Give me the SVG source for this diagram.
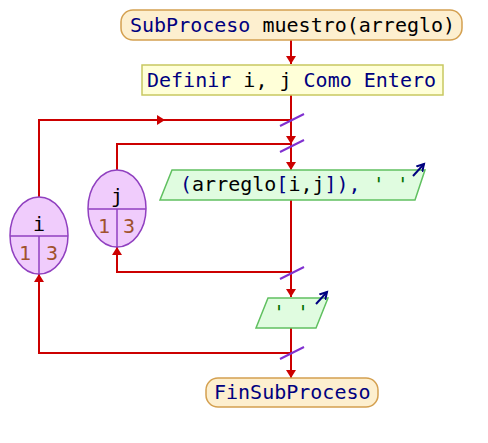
<svg xmlns="http://www.w3.org/2000/svg" width="488" height="443" viewBox="0 0 488 443">
<style>
text{font-family:"DejaVu Sans Mono","Liberation Mono",monospace;font-size:20px}
.kw{fill:#00007f}.id{fill:#000}.st{fill:#007000}.nm{fill:#a0522d}
.term{fill:#fdefcf;stroke:#d4a050;stroke-width:1.5}
.proc{fill:#ffffd8;stroke:#c8c860;stroke-width:1.5}
.out{fill:#e0fce0;stroke:#60c060;stroke-width:1.5}
.loop{fill:#f0ccfc;stroke:#9040c0;stroke-width:1.5}
.div{stroke:#9040c0;stroke-width:1.5}
.con{fill:none;stroke:#cc0000;stroke-width:2}
.sl{stroke:#8030d0;stroke-width:2}
.oa{fill:none;stroke:#00007f;stroke-width:2}
</style>
<defs>
<marker id="ah" markerUnits="userSpaceOnUse" markerWidth="12" markerHeight="10" refX="8" refY="5" orient="auto">
<path d="M0,0 L8,5 L0,10 Z" fill="#cc0000"/>
</marker>
<marker id="oh" markerUnits="userSpaceOnUse" markerWidth="10" markerHeight="10" refX="7" refY="5" orient="auto">
<path d="M0,1 L7,5 L0,9" fill="none" stroke="#00007f" stroke-width="2"/>
</marker>
</defs>
<g id="connectors">
<path class="con" d="M291,40 V64" marker-end="url(#ah)"/>
<path class="con" d="M291,95 V144" marker-end="url(#ah)"/>
<path class="con" d="M291,144 V170" marker-end="url(#ah)"/>
<path class="con" d="M39,197 V120 H165" marker-end="url(#ah)"/>
<path class="con" d="M165,120 H291"/>
<path class="con" d="M117,170 V144 H291"/>
<path class="con" d="M291,200 V297" marker-end="url(#ah)"/>
<path class="con" d="M291,272 H117 V247" marker-end="url(#ah)"/>
<path class="con" d="M291,328 V378" marker-end="url(#ah)"/>
<path class="con" d="M291,353 H39 V274" marker-end="url(#ah)"/>
<line class="sl" x1="280" y1="126" x2="304" y2="114"/>
<line class="sl" x1="280" y1="152" x2="304" y2="140"/>
<line class="sl" x1="280" y1="279" x2="304" y2="267"/>
<line class="sl" x1="280" y1="359" x2="304" y2="347"/>
</g>
<g id="start">
<rect class="term" x="121" y="10" width="341" height="30" rx="12"/>
<text x="130" y="32"><tspan class="kw">SubProceso</tspan><tspan class="id"> muestro(arreglo)</tspan></text>
</g>
<g id="definir">
<rect class="proc" x="142" y="65" width="301" height="30"/>
<text x="147" y="87"><tspan class="kw">Definir</tspan><tspan class="id"> i, j </tspan><tspan class="kw">Como Entero</tspan></text>
</g>
<g id="loop_i">
<ellipse class="loop" cx="39" cy="235.5" rx="29" ry="38.5"/>
<line class="div" x1="10" y1="236" x2="68" y2="236"/>
<line class="div" x1="39" y1="236" x2="39" y2="274"/>
<text class="id" x="39" y="231" text-anchor="middle">i</text>
<text class="nm" x="25" y="260" text-anchor="middle">1</text>
<text class="nm" x="52" y="260" text-anchor="middle">3</text>
</g>
<g id="loop_j">
<ellipse class="loop" cx="117" cy="208.5" rx="29" ry="38.5"/>
<line class="div" x1="88" y1="209" x2="146" y2="209"/>
<line class="div" x1="117" y1="209" x2="117" y2="247"/>
<text class="id" x="117" y="203" text-anchor="middle">j</text>
<text class="nm" x="104" y="233" text-anchor="middle">1</text>
<text class="nm" x="129" y="233" text-anchor="middle">3</text>
</g>
<g id="out1">
<polygon class="out" points="172,170 425,170 415,200 160,200"/>
<text x="180" y="191"><tspan class="kw">(</tspan><tspan class="id">arreglo</tspan><tspan class="kw">[</tspan><tspan class="id">i,j</tspan><tspan class="kw">]),</tspan><tspan class="id"> </tspan><tspan class="st">' '</tspan></text>
<path class="oa" d="M413,176 L424,164" marker-end="url(#oh)"/>
</g>
<g id="out2">
<polygon class="out" points="268,298 328,298 316,328 256,328"/>
<text x="273" y="319" class="st">' '</text>
<path class="oa" d="M316,304 L327,292" marker-end="url(#oh)"/>
</g>
<g id="end">
<rect class="term" x="206" y="378" width="172" height="29" rx="12"/>
<text class="kw" x="214" y="399">FinSubProceso</text>
</g>
</svg>
